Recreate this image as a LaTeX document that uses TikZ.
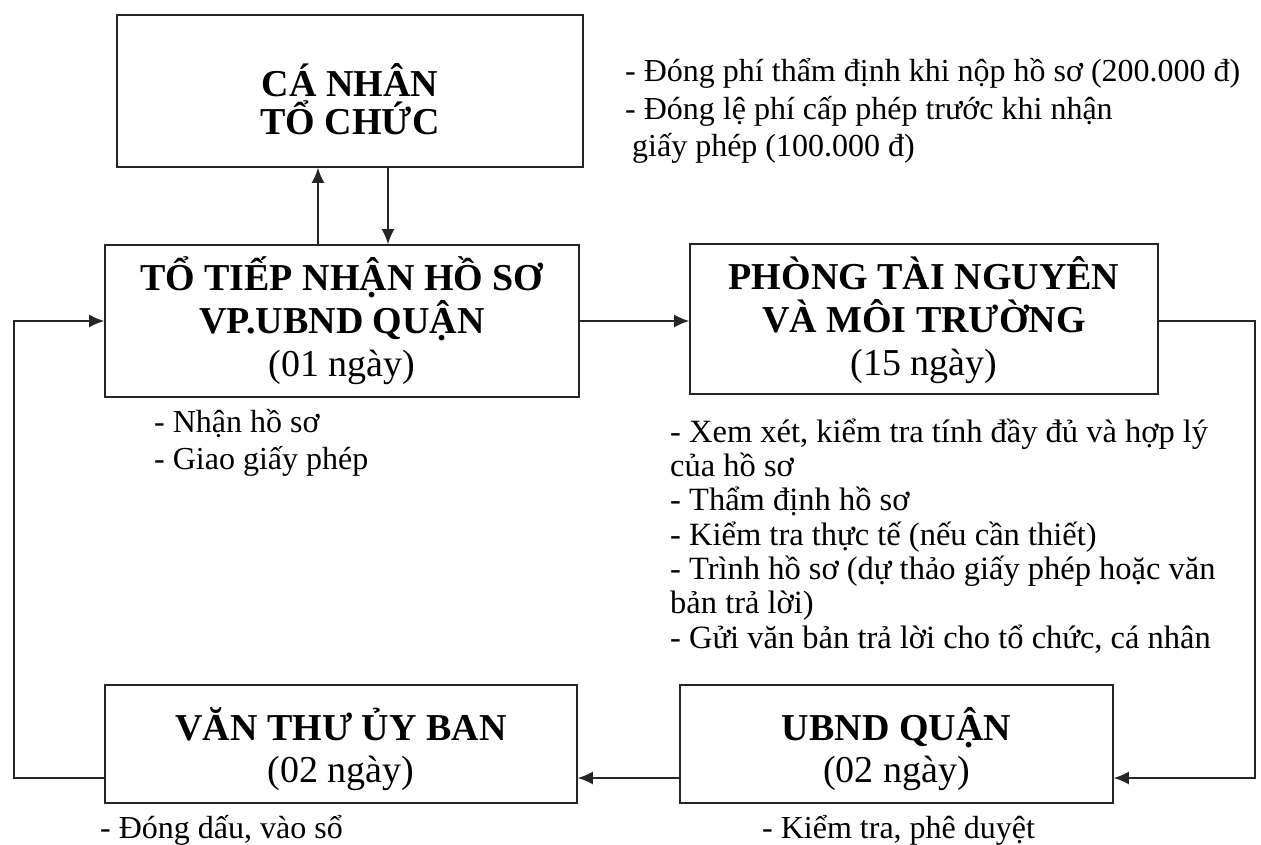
\documentclass[tikz,border=0pt]{standalone}
\usepackage{fontspec}
\setmainfont{Liberation Serif}
\usetikzlibrary{arrows.meta}
\begin{document}
\begin{tikzpicture}[x=1pt,y=-1pt,
  box/.style={draw=black!85, line width=1.7pt, rectangle, inner sep=0pt},
  ttl/.style={align=center, inner sep=0pt, font=\fontsize{38}{43}\selectfont},
  note/.style={align=left, inner sep=0pt, anchor=west, font=\fontsize{32}{36}\selectfont},
  conn/.style={draw=black!85, line width=1.6pt, -{Latex[length=15,width=13]}}]
\useasboundingbox (0,0) rectangle (1261,845);
\fill[white] (0,0) rectangle (1261,845);
% boxes
\node[box, minimum width=466, minimum height=152] (b1) at (350,91) {};
\node[box, minimum width=474, minimum height=152] (b2) at (342,321) {};
\node[box, minimum width=468, minimum height=150] (b3) at (924,319) {};
\node[box, minimum width=472, minimum height=118] (b4) at (341,744) {};
\node[box, minimum width=433, minimum height=118] (b5) at (896.5,744) {};
% titles
\node[ttl, font=\fontsize{38}{38}\selectfont] (t1) at (350,99) {\textbf{CÁ NHÂN}\\\textbf{TỔ CHỨC}};
\node[ttl] (t2) at (342,321) {\textbf{TỔ TIẾP NHẬN HỒ SƠ}\\\textbf{VP.UBND QUẬN}\\(01 ngày)};
\node[ttl] (t3) at (924,320) {\textbf{PHÒNG TÀI NGUYÊN}\\\textbf{VÀ MÔI TRƯỜNG}\\(15 ngày)};
\node[ttl, font=\fontsize{38}{42}\selectfont] (t4) at (341,749) {\textbf{VĂN THƯ ỦY BAN}\\(02 ngày)};
\node[ttl, font=\fontsize{38}{42}\selectfont] (t5) at (896.5,749) {\textbf{UBND QUẬN}\\(02 ngày)};
% notes
\node[note, font=\fontsize{32}{37.5}\selectfont] (n1) at (625,111) {- Đóng phí thẩm định khi nộp hồ sơ (200.000 đ)\\- Đóng lệ phí cấp phép trước khi nhận\\\hspace*{7pt}giấy phép (100.000 đ)};
\node[note, font=\fontsize{32}{37}\selectfont] (n2) at (154,443) {- Nhận hồ sơ\\- Giao giấy phép};
\node[note, font=\fontsize{32.5}{34.3}\selectfont] (n3) at (670,536) {- Xem xét, kiểm tra tính đầy đủ và hợp lý\\của hồ sơ\\- Thẩm định hồ sơ\\- Kiểm tra thực tế (nếu cần thiết)\\- Trình hồ sơ (dự thảo giấy phép hoặc văn\\bản trả lời)\\- Gửi văn bản trả lời cho tổ chức, cá nhân};
\node[note] (n4) at (100,830) {- Đóng dấu, vào sổ};
\node[note] (n5) at (762,830) {- Kiểm tra, phê duyệt};
% helper coordinates
\coordinate (xu) at (318,0);
\coordinate (xd) at (388,0);
\coordinate (rx) at (1255,0);
\coordinate (lx) at (14,0);
\coordinate (yb) at (0,778);
\coordinate (ym) at (0,321);
% connectors
\draw[conn] (xu |- b2.north) -- (xu |- b1.south);
\draw[conn] (xd |- b1.south) -- (xd |- b2.north);
\draw[conn] (b2.east) -- (b3.west |- ym);
\draw[conn] (b3.east |- ym) -- (rx |- ym) -- (rx |- yb) -- (b5.east |- yb);
\draw[conn] (b5.west |- yb) -- (b4.east |- yb);
\draw[conn] (b4.west |- yb) -- (lx |- yb) -- (lx |- b2.west) -- (b2.west);
\end{tikzpicture}
\end{document}
